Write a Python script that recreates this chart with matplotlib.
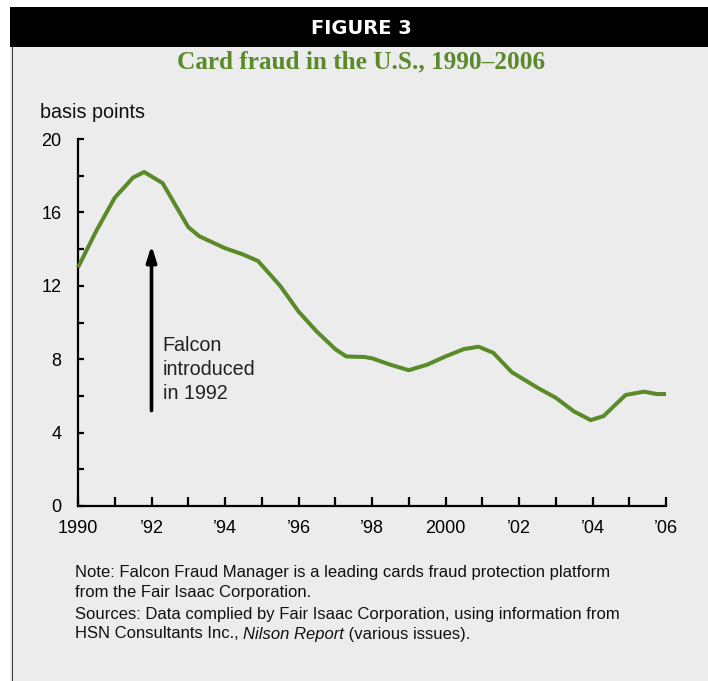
import matplotlib
matplotlib.use("Agg")
import matplotlib.pyplot as plt
from matplotlib.patches import Rectangle
from matplotlib.transforms import IdentityTransform

# Card fraud losses, basis points of card volume
years = [1990.0, 1990.5, 1991.0, 1991.5, 1991.8, 1992.3, 1993.0, 1993.3, 1994.0,
         1994.5, 1994.9, 1995.5, 1996.0, 1996.5, 1997.0, 1997.3, 1997.8, 1998.0, 1998.5,
         1999.0, 1999.5, 2000.0, 2000.5, 2000.9, 2001.3, 2001.8, 2002.5, 2003.0,
         2003.5, 2003.95, 2004.3, 2004.9, 2005.4, 2005.75, 2006.0]
fraud_bp = [13.0, 15.0, 16.8, 17.9, 18.2, 17.6, 15.2, 14.7, 14.05,
            13.7, 13.35, 12.0, 10.6, 9.5, 8.55, 8.15, 8.12, 8.05, 7.7,
            7.4, 7.7, 8.15, 8.55, 8.68, 8.35, 7.3, 6.45, 5.9,
            5.15, 4.68, 4.9, 6.05, 6.23, 6.1, 6.1]

x_ticks = [1990, 1992, 1994, 1996, 1998, 2000, 2002, 2004, 2006]
x_tick_labels = ["1990", "\u201992", "\u201994", "\u201996", "\u201998", "2000",
                 "\u201902", "\u201904", "\u201906"]
y_ticks = [0, 4, 8, 12, 16, 20]
arrow_year = 1992.0
arrow_from, arrow_to = 5.2, 14.2

GREEN = "#5a8a2a"
BG = "#ececec"
INK = "#111111"
W, H = 708, 681
SANS = ["Liberation Sans", "DejaVu Sans"]

fig = plt.figure(figsize=(W / 100, H / 100), dpi=100, facecolor=BG)


def fx(px):
    return px / W


def fy(py):
    return 1 - py / H


# frame: white margin, black header band, dark left rule
fig.patches.append(Rectangle((0, fy(7)), 1, 1 - fy(7), transform=fig.transFigure,
                             facecolor="white", edgecolor="none", zorder=0))
fig.patches.append(Rectangle((0, 0), fx(10), 1, transform=fig.transFigure,
                             facecolor="white", edgecolor="none", zorder=0))
fig.patches.append(Rectangle((fx(10), fy(47)), 1 - fx(10), fy(7) - fy(47),
                             transform=fig.transFigure, facecolor="black",
                             edgecolor="none", zorder=1))
fig.patches.append(Rectangle((fx(11.5), 0), fx(2), fy(47), transform=fig.transFigure,
                             facecolor="#333333", edgecolor="none", zorder=1))

fig.text(fx(361), fy(28.5), "FIGURE 3", color="white", fontsize=14, fontweight="bold",
         family=["DejaVu Sans"], ha="center", va="center")
fig.text(fx(361), fy(62), "Card fraud in the U.S., 1990\u20132006", color=GREEN,
         fontsize=18.2, fontweight="bold", family=["Liberation Serif", "DejaVu Serif"],
         ha="center", va="center")

ax = fig.add_axes([fx(78), fy(506), fx(666) - fx(78), fy(139) - fy(506)])
ax.set_facecolor("none")
ax.set_xlim(1990, 2006)
ax.set_ylim(0, 20)
for s in ("top", "right"):
    ax.spines[s].set_visible(False)
for s in ("left", "bottom"):
    ax.spines[s].set_linewidth(1.6)
    ax.spines[s].set_color("black")
    ax.spines[s].set_capstyle("projecting")

ax.plot(years, fraud_bp, color=GREEN, lw=2.9, solid_joinstyle="round",
        solid_capstyle="butt", clip_on=False, zorder=3)

ax.set_xticks(list(range(1990, 2007)), minor=True)
ax.set_xticks(x_ticks)
ax.set_xticklabels(x_tick_labels, family=SANS, fontsize=13)
ax.set_yticks(list(range(2, 20, 4)), minor=True)
ax.set_yticks(y_ticks)
ax.set_yticklabels([str(v) for v in y_ticks], family=SANS, fontsize=13)
ax.tick_params(axis="x", which="both", direction="in", length=6.5, width=1.6, pad=10)
ax.tick_params(axis="y", which="both", direction="in", length=4.5, width=1.6, pad=12)

ax.annotate("", xy=(arrow_year, arrow_to), xytext=(arrow_year, arrow_from),
            arrowprops=dict(arrowstyle="-|>,head_length=0.95,head_width=0.3",
                            color="black", lw=2.6, shrinkA=0, shrinkB=0))
ax.text(1992.3, 7.45, "Falcon\nintroduced\nin 1992", family=SANS, fontsize=14.2,
        color="#222222", ha="left", va="center", linespacing=1.33)

fig.text(fx(40), fy(113), "basis points", family=SANS, fontsize=14.2, ha="left",
         va="center", color=INK)

NOTE_FS = 12
fig.text(fx(75), fy(572), "Note: Falcon Fraud Manager is a leading cards fraud protection platform",
         family=SANS, fontsize=NOTE_FS, va="center", color=INK)
fig.text(fx(75), fy(592), "from the Fair Isaac Corporation.", family=SANS,
         fontsize=NOTE_FS, va="center", color=INK)
fig.text(fx(75), fy(614), "Sources: Data complied by Fair Isaac Corporation, using information from",
         family=SANS, fontsize=NOTE_FS, va="center", color=INK)
src = fig.text(fx(75), fy(634), "HSN Consultants Inc., ", family=SANS,
               fontsize=NOTE_FS, va="center", color=INK)

# the journal name is set in italics, followed by the rest of the line
fig.canvas.draw()
r = fig.canvas.get_renderer()
bb = src.get_window_extent(r)
ital = fig.text(bb.x1, bb.y0, "Nilson Report", family=SANS, fontsize=NOTE_FS,
                style="italic", color=INK, va="bottom", ha="left",
                transform=IdentityTransform())
bb2 = ital.get_window_extent(r)
fig.text(bb2.x1, bb.y0, " (various issues).", family=SANS, fontsize=NOTE_FS,
         color=INK, va="bottom", ha="left", transform=IdentityTransform())

fig.savefig("out.png", dpi=100, facecolor=BG)
